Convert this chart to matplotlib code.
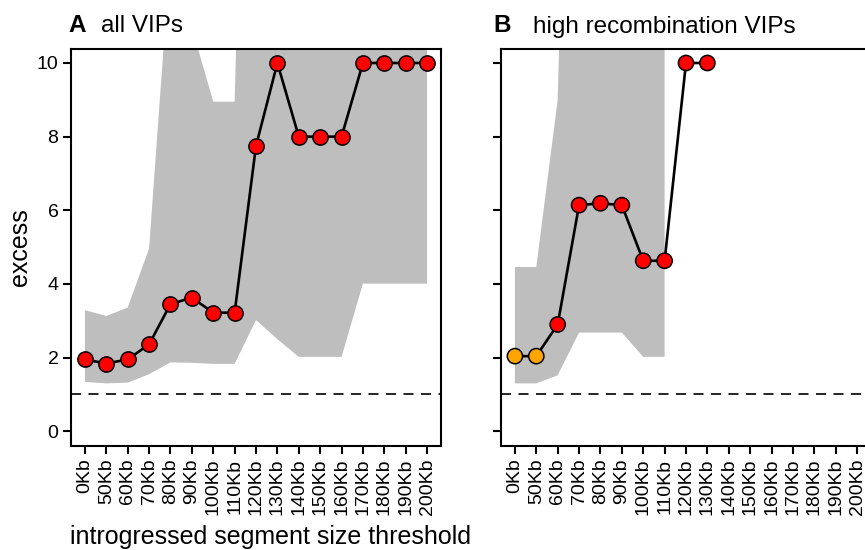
import matplotlib
matplotlib.use('Agg')
import matplotlib.pyplot as plt
import numpy as np

plt.rcParams['font.family'] = ['Liberation Sans', 'DejaVu Sans']

thresholds = ['0Kb', '50Kb', '60Kb', '70Kb', '80Kb', '90Kb', '100Kb', '110Kb', '120Kb',
              '130Kb', '140Kb', '150Kb', '160Kb', '170Kb', '180Kb', '190Kb', '200Kb']

# panel A: all VIPs
excess_all = [1.95, 1.84, 1.95, 2.36, 3.45, 3.63, 3.22, 3.22, 7.75,
              10.0, 8.0, 8.0, 8.0, 10.0, 10.0, 10.0, 10.0]
low_all = [1.34, 1.30, 1.32, 1.55, 1.87, 1.86, 1.83, 1.83, 3.02,
           2.5, 2.02, 2.02, 2.02, 4.01, 4.01, 4.01, 4.01]
high_all = [3.29, 3.13, 3.36, 4.96, 13.0, 10.97, 8.95, 8.95, 30.0,
            30.0, 30.0, 30.0, 30.0, 30.0, 30.0, 30.0, 30.0]

# panel B: high recombination VIPs (no data above 130Kb, no band above 110Kb)
excess_high = [2.04, 2.04, 2.90, 6.14, 6.19, 6.14, 4.63, 4.63, 10.0, 10.0]
colors_high = ['orange', 'orange', 'red', 'red', 'red', 'red', 'red', 'red', 'red', 'red']
low_high = [1.30, 1.30, 1.52, 2.68, 2.68, 2.68, 2.02, 2.02]
high_high = [4.46, 4.46, 9.0, 30.0, 30.0, 30.0, 30.0, 30.0]

W, H = 865, 550
fig = plt.figure(figsize=(W / 100, H / 100), dpi=100)
ax_a = fig.add_axes([71 / W, 104 / H, 370 / W, 397 / H])
ax_b = fig.add_axes([501 / W, 104 / H, 370 / W, 397 / H])

x = np.arange(len(thresholds))

def style(ax, show_ylabels):
    ax.set_xlim(-0.65, 16.65)
    ax.set_ylim(-0.4, 10.38)
    ax.set_xticks(x)
    ax.set_xticklabels(thresholds, rotation=90, fontsize=14)
    ax.set_yticks([0, 2, 4, 6, 8, 10])
    if not show_ylabels:
        ax.set_yticklabels([])
    ax.tick_params(axis='both', length=6, width=1.5, labelsize=14, pad=3)
    for s in ax.spines.values():
        s.set_linewidth(1.5)
    ax.axhline(1, color='black', lw=1.2, ls=(0, (6, 4.5)), zorder=1)

# panel A
ax_a.fill_between(x, low_all, high_all, color='#bebebe', lw=0, zorder=0)
ax_a.plot(x, excess_all, color='black', lw=1.9, zorder=2)
ax_a.scatter(x, excess_all, s=120, c='red', edgecolors='black', linewidths=1.1, zorder=3)
style(ax_a, True)

# panel B
xb = x[:len(low_high)]
ax_b.fill_between(xb, low_high, high_high, color='#bebebe', lw=0, zorder=0)
xp = x[:len(excess_high)]
ax_b.plot(xp, excess_high, color='black', lw=1.9, zorder=2)
ax_b.scatter(xp, excess_high, s=120, c=colors_high, edgecolors='black', linewidths=1.1, zorder=3)
style(ax_b, False)

# panel titles
ty = 1 - 32.5 / H
fig.text(68 / W, ty, 'A', fontsize=17.5, fontweight='bold', va='baseline')
fig.text(101 / W, ty, 'all VIPs', fontsize=17.5, va='baseline')
fig.text(493 / W, ty, 'B', fontsize=17.5, fontweight='bold', va='baseline')
fig.text(533 / W, ty, 'high recombination VIPs', fontsize=17.5, va='baseline')

fig.text(20 / W, 1 - 247.5 / H, 'excess', fontsize=18, rotation=90, ha='center', va='center')
fig.text(70 / W, 1 - 544 / H, 'introgressed segment size threshold', fontsize=18, va='baseline')

fig.savefig('out.png', dpi=100)
